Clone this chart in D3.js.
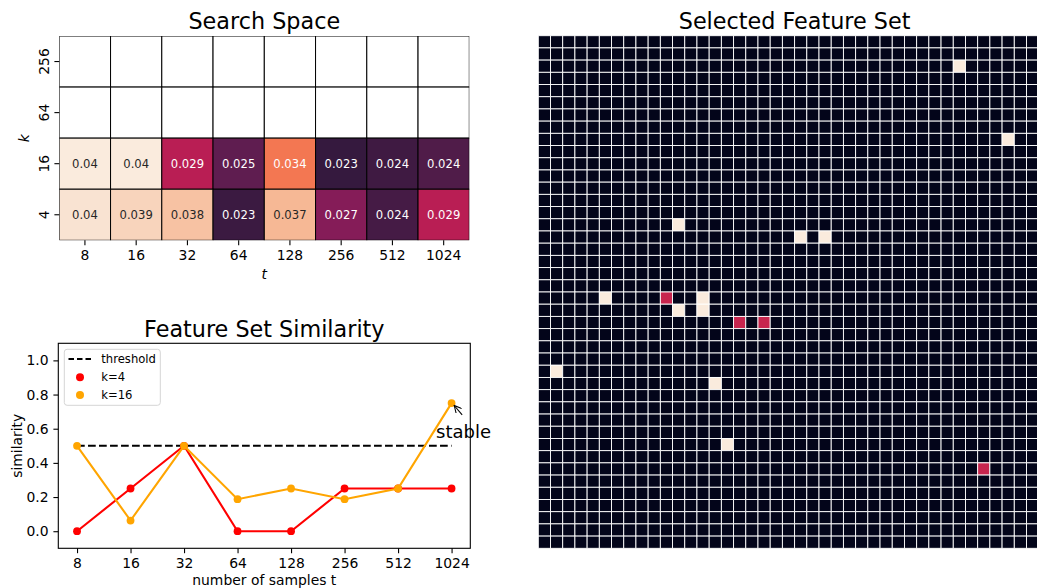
<!DOCTYPE html>
<html>
<head>
<meta charset="utf-8">
<script src="https://cdn.jsdelivr.net/npm/d3@7/dist/d3.min.js"></script>
<style>
  body { margin: 0; background: #fff; }
  svg { display: block; font-family: "DejaVu Sans", sans-serif; }
</style>
</head>
<body>
<svg id="fig" width="1037" height="588"></svg>
<script>
// ---- data ----
const tLabels = ["8", "16", "32", "64", "128", "256", "512", "1024"];
const kLabels = ["256", "64", "16", "4"];
// mean error per (k, t); k=256 and k=64 were not evaluated
const errK16 = [0.0400, 0.0400, 0.0294, 0.0251, 0.0344, 0.0231, 0.0236, 0.0244];
const errK4  = [0.0396, 0.0388, 0.0379, 0.0234, 0.0374, 0.0269, 0.0239, 0.0294];
const errRange = [0.0203, 0.0400];

// feature set similarity between consecutive sample sizes
const simK4  = [0, 0.25, 0.5, 0, 0, 0.25, 0.25, 0.25];
const simK16 = [0.5, 0.0625, 0.5, 0.1875, 0.25, 0.1875, 0.25, 0.75];
const threshold = 0.5;

// selected features on a 42 x 42 grid: [row, col, weight]
const gridSize = 42;
const selected = [
  [2, 34, 1], [8, 38, 1], [15, 11, 1], [16, 21, 1], [16, 23, 1],
  [21, 5, 1], [21, 10, 0.5], [21, 13, 1], [22, 11, 1], [22, 13, 1],
  [23, 16, 0.5], [23, 18, 0.5], [27, 1, 1], [28, 14, 1], [33, 15, 1],
  [35, 36, 0.5]
];

// ---- rocket colormap ----
const rocketStops = ["#03051a", "#35193e", "#701f57", "#ad1759", "#e13342", "#f37651", "#f6b48f", "#faebdd"];
const rocket = d3.scaleLinear()
  .domain(rocketStops.map((_, i) => i / (rocketStops.length - 1)))
  .range(rocketStops)
  .interpolate(d3.interpolateRgb)
  .clamp(true);

function luminance(c) {
  const rgb = d3.rgb(c);
  const lin = v => { v /= 255; return v <= 0.03928 ? v / 12.92 : Math.pow((v + 0.055) / 1.055, 2.4); };
  return 0.2126 * lin(rgb.r) + 0.7152 * lin(rgb.g) + 0.0722 * lin(rgb.b);
}

const svg = d3.select("#fig");
const tickLen = 4.9, tickPad = 4.9;
const tickFont = 13.9, titleFont = 22.3, labelFont = 13.9;

function styleAxis(g) {
  g.select(".domain").remove();
  g.selectAll("text").attr("font-size", tickFont).attr("fill", "#000").attr("font-family", "DejaVu Sans");
  g.selectAll("line").attr("stroke", "#000").attr("stroke-width", 1.1);
}

// ================= Search Space heatmap =================
{
  const L = 59.3, R = 469.3, T = 36, B = 240.3;
  const x = d3.scaleBand().domain(tLabels).range([L, R]);
  const y = d3.scaleBand().domain(kLabels).range([T, B]);
  const norm = d3.scaleLinear().domain(errRange).range([0, 1]);
  const fmt = d3.format(".2~g");

  const cells = [];
  kLabels.forEach(k => tLabels.forEach((t, i) => {
    let v = null;
    if (k === "16") v = errK16[i];
    if (k === "4") v = errK4[i];
    cells.push({ k, t, v });
  }));

  svg.append("clipPath").attr("id", "hmClip")
    .append("rect").attr("x", L).attr("y", T).attr("width", R - L).attr("height", B - T);

  const g = svg.append("g").attr("clip-path", "url(#hmClip)");
  g.selectAll("rect").data(cells).join("rect")
    .attr("x", d => x(d.t)).attr("y", d => y(d.k))
    .attr("width", x.bandwidth()).attr("height", y.bandwidth())
    .attr("fill", d => d.v == null ? "#fff" : rocket(norm(d.v)))
    .attr("stroke", "#000").attr("stroke-width", 1);

  svg.append("g").selectAll("text").data(cells.filter(d => d.v != null)).join("text")
    .attr("x", d => x(d.t) + x.bandwidth() / 2)
    .attr("y", d => y(d.k) + y.bandwidth() / 2)
    .attr("text-anchor", "middle").attr("dominant-baseline", "central")
    .attr("font-size", 11.6)
    .attr("fill", d => luminance(rocket(norm(d.v))) > 0.408 ? "#262626" : "#fff")
    .text(d => fmt(d.v));

  const ax = svg.append("g").attr("transform", `translate(0,${B})`)
    .call(d3.axisBottom(x).tickSize(tickLen).tickPadding(tickPad));
  styleAxis(ax);

  const ay = svg.append("g").attr("transform", `translate(${L},0)`)
    .call(d3.axisLeft(y).tickSize(tickLen).tickPadding(tickPad));
  styleAxis(ay);
  ay.selectAll("text")
    .attr("text-anchor", "middle").attr("dy", null).attr("x", null)
    .attr("transform", `translate(${-tickLen - tickPad - 5.5},0) rotate(-90)`)
    .attr("dominant-baseline", "central");

  svg.append("text").attr("x", (L + R) / 2).attr("y", 29)
    .attr("text-anchor", "middle").attr("font-size", titleFont).text("Search Space");
  svg.append("text").attr("x", (L + R) / 2).attr("y", 278.5)
    .attr("text-anchor", "middle").attr("font-size", labelFont).attr("font-style", "italic").text("t");
  svg.append("text").attr("transform", `translate(28.5,${(T + B) / 2}) rotate(-90)`)
    .attr("text-anchor", "middle").attr("font-size", labelFont).attr("font-style", "italic").text("k");
}

// ================= Feature Set Similarity =================
{
  const L = 58.3, R = 470.3, T = 343.3, B = 548.3;
  const x = d3.scaleLinear().domain([-0.35, 7.35]).range([L, R]);
  const y = d3.scaleLinear().domain([-0.1, 1.1]).range([B, T]);
  const idx = d3.range(tLabels.length);

  const ax = svg.append("g").attr("transform", `translate(0,${B})`)
    .call(d3.axisBottom(x).tickValues(idx).tickFormat(i => tLabels[i]).tickSize(tickLen).tickPadding(tickPad));
  styleAxis(ax);

  const ay = svg.append("g").attr("transform", `translate(${L},0)`)
    .call(d3.axisLeft(y).tickValues([0, 0.2, 0.4, 0.6, 0.8, 1.0]).tickFormat(d3.format(".1f")).tickSize(tickLen).tickPadding(tickPad));
  styleAxis(ay);

  // threshold
  svg.append("line")
    .attr("x1", x(0)).attr("x2", x(idx.length - 1))
    .attr("y1", y(threshold)).attr("y2", y(threshold))
    .attr("stroke", "#000").attr("stroke-width", 2.1).attr("stroke-dasharray", "7.7,3.3");

  const line = d3.line().x((d, i) => x(i)).y(d => y(d));
  [[simK4, "#ff0000"], [simK16, "#ffa500"]].forEach(([vals, col]) => {
    svg.append("path").datum(vals).attr("d", line)
      .attr("fill", "none").attr("stroke", col).attr("stroke-width", 2.1);
    svg.append("g").selectAll("circle").data(vals).join("circle")
      .attr("cx", (d, i) => x(i)).attr("cy", d => y(d)).attr("r", 3.9).attr("fill", col);
  });

  // axes frame
  svg.append("rect").attr("x", L).attr("y", T).attr("width", R - L).attr("height", B - T)
    .attr("fill", "none").attr("stroke", "#000").attr("stroke-width", 1.1);

  // annotation
  const last = idx.length - 1;
  const px = x(last), py = y(simK16[last]);
  svg.append("defs").append("marker").attr("id", "arrowHead")
    .attr("viewBox", "0 0 10 10").attr("refX", 9).attr("refY", 5)
    .attr("markerWidth", 8).attr("markerHeight", 8).attr("markerUnits", "userSpaceOnUse")
    .attr("orient", "auto")
    .append("path").attr("d", "M0,0.5 L9,5 L0,9.5").attr("fill", "none").attr("stroke", "#000").attr("stroke-width", 1.3);
  svg.append("line").attr("x1", px + 10.6).attr("y1", py + 11.7).attr("x2", px + 2.6).attr("y2", py + 2.4)
    .attr("stroke", "#000").attr("stroke-width", 1.1).attr("marker-end", "url(#arrowHead)");
  svg.append("text").attr("x", 436).attr("y", 438.3).attr("font-size", 18).text("stable");

  // legend
  const lg = svg.append("g");
  lg.append("rect").attr("x", 64.3).attr("y", 349.3).attr("width", 96).attr("height", 56)
    .attr("rx", 2.8).attr("fill", "#fff").attr("fill-opacity", 0.8).attr("stroke", "#d5d5d5").attr("stroke-width", 1);
  lg.append("line").attr("x1", 68.5).attr("x2", 92.5).attr("y1", 359).attr("y2", 359)
    .attr("stroke", "#000").attr("stroke-width", 2.1).attr("stroke-dasharray", "5.5,3");
  const entries = [["threshold", null, 359], ["k=4", "#ff0000", 377.3], ["k=16", "#ffa500", 395]];
  entries.forEach(([label, col, yy]) => {
    if (col) lg.append("circle").attr("cx", 80).attr("cy", yy).attr("r", 4).attr("fill", col);
    lg.append("text").attr("x", 101.3).attr("y", yy).attr("dominant-baseline", "central")
      .attr("font-size", 11.6).text(label);
  });

  svg.append("text").attr("x", (L + R) / 2).attr("y", 337)
    .attr("text-anchor", "middle").attr("font-size", titleFont).text("Feature Set Similarity");
  svg.append("text").attr("x", (L + R) / 2).attr("y", 585)
    .attr("text-anchor", "middle").attr("font-size", labelFont).text("number of samples t");
  svg.append("text").attr("transform", `translate(21.5,${(T + B) / 2}) rotate(-90)`)
    .attr("text-anchor", "middle").attr("font-size", labelFont).text("similarity");
}

// ================= Selected Feature Set =================
{
  const L = 538.3, T = 35.7, size = 512.6;
  const x = d3.scaleBand().domain(d3.range(gridSize)).range([L, L + size]);
  const y = d3.scaleBand().domain(d3.range(gridSize)).range([T, T + size]);
  const weight = new Map(selected.map(([r, c, v]) => [r * gridSize + c, v]));
  const cells = [];
  for (let r = 0; r < gridSize; r++)
    for (let c = 0; c < gridSize; c++)
      cells.push({ r, c, v: weight.get(r * gridSize + c) || 0 });

  svg.append("g").selectAll("rect").data(cells).join("rect")
    .attr("x", d => x(d.c)).attr("y", d => y(d.r))
    .attr("width", x.bandwidth()).attr("height", y.bandwidth())
    .attr("fill", d => rocket(d.v))
    .attr("stroke", "#fff").attr("stroke-width", 0.9);

  svg.append("text").attr("x", L + size / 2).attr("y", 29)
    .attr("text-anchor", "middle").attr("font-size", titleFont).text("Selected Feature Set");
}
</script>
</body>
</html>
